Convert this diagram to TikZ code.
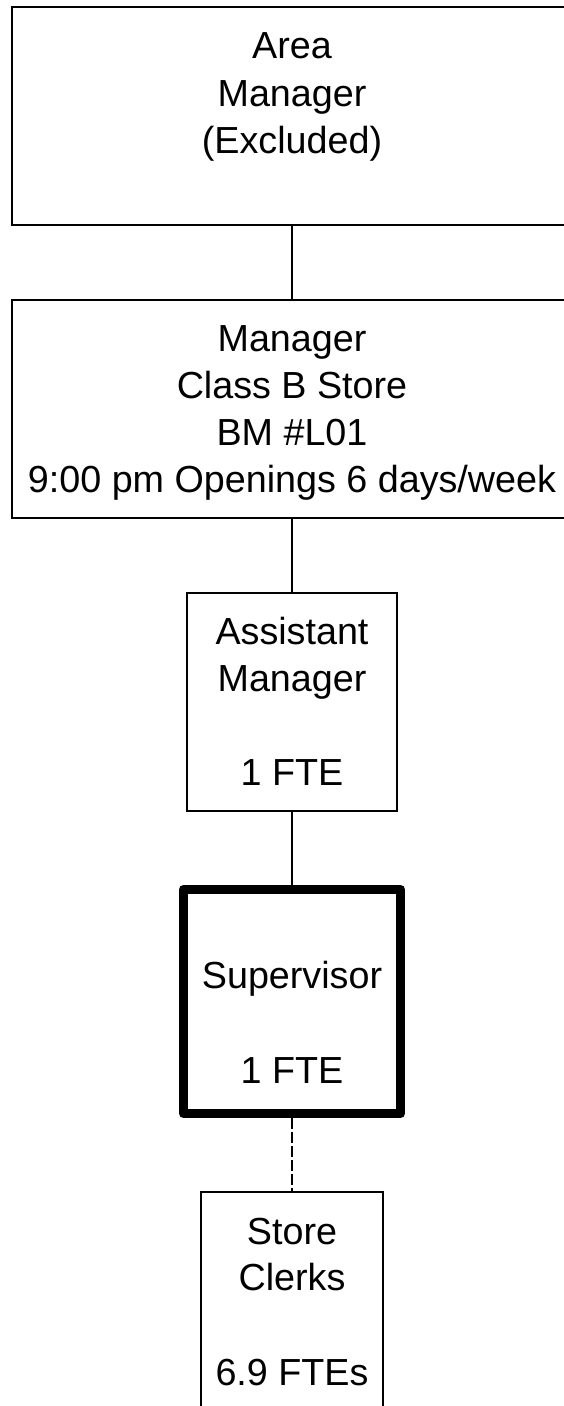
\documentclass[tikz,border=0pt]{standalone}
\usepackage{fontspec}
\setmainfont{Liberation Sans}
\begin{document}
\begin{tikzpicture}[x=1pt,y=-1pt]
\tikzset{
  box/.style={draw=black, line width=2.6pt, fill=white, inner sep=0pt, rectangle},
  thickbox/.style={box, line width=9pt, line join=round},
  txt/.style={anchor=base, inner sep=0pt, font=\fontsize{37.7}{47}\selectfont},
  link/.style={draw=black, line width=2pt},
  dashlink/.style={link, dash pattern=on 11pt off 3pt}
}
\fill[white] (0,0) rectangle (563,1406);
\useasboundingbox (0,0) rectangle (563,1406);

% boxes
\node[box, minimum width=560pt, minimum height=218pt] (am) at (292,116) {};
\node[box, minimum width=560pt, minimum height=218pt] (mgr) at (292,409) {};
\node[box, minimum width=210pt, minimum height=218pt] (asst) at (292,702) {};
\node[thickbox, minimum width=217pt, minimum height=224pt] (sup) at (292,1001.5) {};
\node[box, minimum width=182pt, minimum height=238pt] (clerks) at (292,1311) {};

% connectors
\draw[link] (am.south) -- (mgr.north);
\draw[link] (mgr.south) -- (asst.north);
\draw[link] (asst.south) -- (sup.north);
\draw[dashlink] (sup.south) -- (clerks.north);

% texts
\node[txt] (am1) at (292,58) {Area};
\node[txt] (am2) at (292,106) {Manager};
\node[txt] (am3) at (292,153) {(Excluded)};

\node[txt] (mg1) at (292,351) {Manager};
\node[txt] (mg2) at (292,398) {Class B Store};
\node[txt] (mg3) at (292,445) {BM \#L01};
\node[txt] (mg4) at (292,492) {9:00 pm Openings 6 days/week};

\node[txt] (as1) at (292,644) {Assistant};
\node[txt] (as2) at (292,691) {Manager};
\node[txt] (as3) at (292,785) {1 FTE};

\node[txt] (su1) at (292,988) {Supervisor};
\node[txt] (su2) at (292,1083) {1 FTE};

\node[txt] (cl1) at (292,1244) {Store};
\node[txt] (cl2) at (292,1290) {Clerks};
\node[txt] (cl3) at (292,1385) {6.9 FTEs};
\end{tikzpicture}
\end{document}
